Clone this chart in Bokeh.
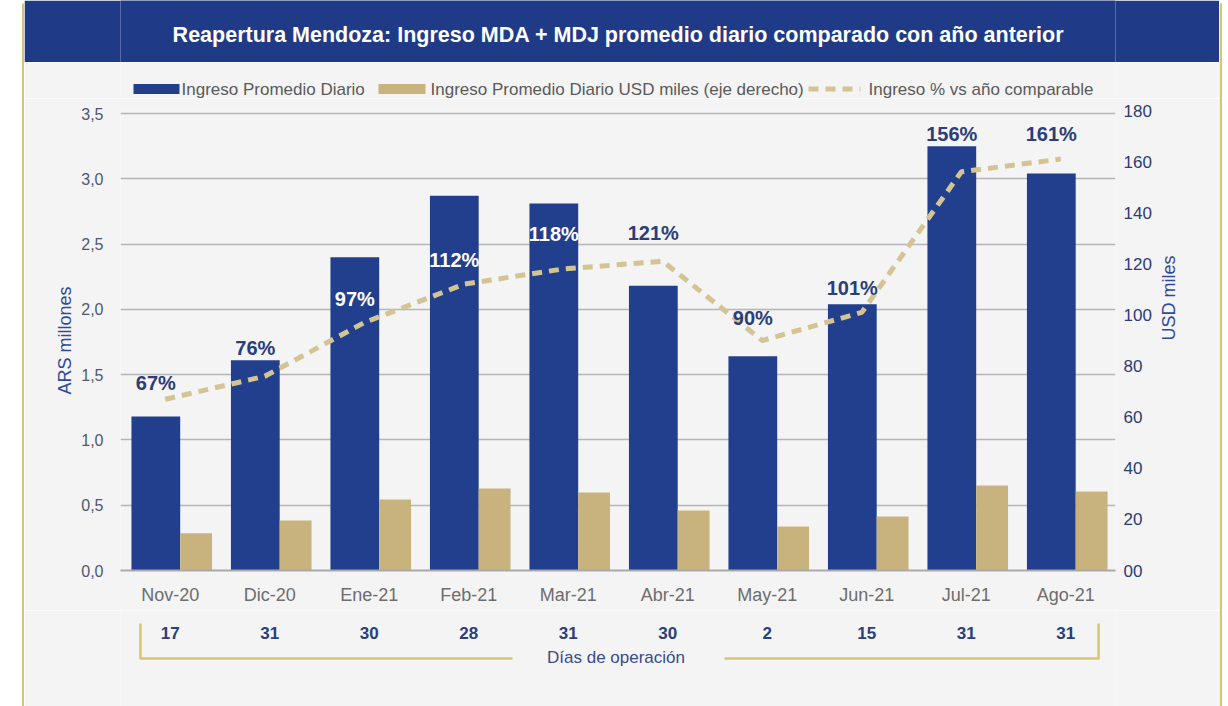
import math
from bokeh.plotting import figure
from bokeh.layouts import row, column
from bokeh.models import (Range1d, LinearAxis, FixedTicker, ColumnDataSource)
from bokeh.transform import dodge
from bokeh.core.properties import value
from bokeh.embed import file_html
from bokeh.resources import INLINE

# ---------------- data ----------------
months = ["Nov-20", "Dic-20", "Ene-21", "Feb-21", "Mar-21",
          "Abr-21", "May-21", "Jun-21", "Jul-21", "Ago-21"]
ars_millones = [1.18, 1.61, 2.40, 2.87, 2.81, 2.18, 1.64, 2.04, 3.25, 3.04]
usd_miles = [14.6, 19.6, 27.8, 32.1, 30.5, 23.5, 17.2, 21.1, 33.3, 30.9]
pct_vs_prev = [67, 76, 97, 112, 118, 121, 90, 101, 156, 161]
dias_operacion = [17, 31, 30, 28, 31, 30, 2, 15, 31, 31]

left_ticks = [0, 0.5, 1.0, 1.5, 2.0, 2.5, 3.0, 3.5]
left_tick_labels = ["0,0", "0,5", "1,0", "1,5", "2,0", "2,5", "3,0", "3,5"]
right_ticks = [0, 20, 40, 60, 80, 100, 120, 140, 160, 180]
right_tick_labels = ["00", "20", "40", "60", "80", "100", "120", "140", "160", "180"]

title_text = "Reapertura Mendoza: Ingreso MDA + MDJ promedio diario comparado con año anterior"
legend_labels = ["Ingreso Promedio Diario",
                 "Ingreso Promedio Diario USD miles (eje derecho)",
                 "Ingreso % vs año comparable"]
dias_title = "Días de operación"

# ---------------- styles ----------------
NAVY = "#213f8c"
TITLE_NAVY = "#1f3b87"
TAN = "#c8b37f"
DASH = "#d4c493"
GOLD = "#d8c66e"
BG = "#f4f4f4"
LABEL_BLUE = "#2b3d7a"
FONT = "Liberation Sans"
label_dy = [-16, -28, -24, -24, -35, -28, -23, -24, -38, -25]
label_colors = [LABEL_BLUE, LABEL_BLUE, "white", "white", "white",
                LABEL_BLUE, LABEL_BLUE, LABEL_BLUE, LABEL_BLUE, LABEL_BLUE]

W, H = 1228, 706
LEFT_STRIP, RIGHT_STRIP = 24, 9
INNER = W - LEFT_STRIP - RIGHT_STRIP          # 1195
X0, X1 = LEFT_STRIP, W - RIGHT_STRIP          # inner page x span 24..1219
FL, FR, FT, FB = 120, 1115, 110, 570          # plot frame, page pixels
TITLE_H, LEG_H, FOOT_H = 62, 36, 96
MAIN_TOP = TITLE_H + LEG_H
MAIN_H = H - MAIN_TOP - FOOT_H
BL, BR = FL - X0, X1 - FR                     # common left / right borders


def deco_fig(w, h, xr, yr, bl=0, br=0, fill=BG, border=BG):
    f = figure(width=w, height=h, x_range=xr, y_range=yr,
               output_backend="svg", toolbar_location=None, title=None,
               x_axis_location=None, y_axis_location=None,
               min_border=0, min_border_left=bl, min_border_right=br,
               outline_line_color=None,
               background_fill_color=fill, border_fill_color=border)
    f.grid.visible = False
    return f


# ---------------- left / right strips (white margin + gold border) ----------------
ls = deco_fig(LEFT_STRIP, H, Range1d(0, LEFT_STRIP), Range1d(H, 0),
              fill="white", border="white")
ls.quad(left=21.5, right=LEFT_STRIP, top=3, bottom=H, fill_color=GOLD, line_color=None)

rs = deco_fig(RIGHT_STRIP, H, Range1d(X1, W), Range1d(H, 0),
              fill="white", border="white")
rs.quad(left=X1, right=X1 + 2.5, top=3, bottom=H, fill_color=GOLD, line_color=None)

# ---------------- title bar ----------------
tb = deco_fig(INNER, TITLE_H, Range1d(FL, FR), Range1d(TITLE_H, 0), bl=BL, br=BR,
              fill=TITLE_NAVY, border=TITLE_NAVY)
tb.text(x=[618], y=[34], text=[title_text], text_color="white", text_font=value(FONT),
        text_font_size="21.5px", text_font_style="bold", text_align="center",
        text_baseline="middle")

# ---------------- legend row ----------------
lg = deco_fig(INNER, LEG_H, Range1d(FL, FR), Range1d(MAIN_TOP, TITLE_H), bl=BL, br=BR)
LEG_Y = 88.5
lg.quad(left=133, right=179, top=LEG_Y - 5, bottom=LEG_Y + 5, fill_color=NAVY, line_color=None)
lg.quad(left=378, right=425, top=LEG_Y - 5, bottom=LEG_Y + 5, fill_color=TAN, line_color=None)
lg.line(x=[808, 860], y=[LEG_Y, LEG_Y], line_color=DASH, line_width=5, line_dash="10 7")
lg.text(x=[181, 430, 868], y=[LEG_Y] * 3, text=legend_labels, text_color="#5a5a5a",
        text_font=value(FONT), text_font_size="17px", text_align="left",
        text_baseline="middle")

# ---------------- main chart ----------------
src = ColumnDataSource(dict(
    month=months, ars=ars_millones, usd=usd_miles, pct=pct_vs_prev,
    pct_label=[f"{v}%" for v in pct_vs_prev], dy=label_dy, lc=label_colors,
))

p = figure(x_range=months, y_range=Range1d(0, 3.5 * 460 / 457),
           width=INNER, height=MAIN_H, output_backend="svg", toolbar_location=None,
           title=None,
           min_border_left=BL, min_border_right=BR,
           min_border_top=FT - MAIN_TOP, min_border_bottom=MAIN_TOP + MAIN_H - FB,
           background_fill_color=BG, border_fill_color=BG, outline_line_color=None)
p.extra_y_ranges = {"usd": Range1d(0, 180)}

p.vbar(x=dodge("month", -0.145, range=p.x_range), top="ars", width=0.49,
       source=src, fill_color=NAVY, line_color=None)
p.vbar(x=dodge("month", 0.26, range=p.x_range), top="usd", width=0.32,
       source=src, fill_color=TAN, line_color=None, y_range_name="usd")
p.line(x=dodge("month", -0.05, range=p.x_range), y="pct", source=src,
       y_range_name="usd", line_color=DASH, line_width=5, line_dash="10 7")
p.text(x=dodge("month", -0.145, range=p.x_range), y="pct", text="pct_label",
       source=src, y_range_name="usd", y_offset="dy", text_color="lc",
       text_font=value(FONT), text_font_size="20px", text_font_style="bold",
       text_align="center", text_baseline="middle")

p.xgrid.grid_line_color = None
p.ygrid.grid_line_color = "#b5b5b5"
p.ygrid.grid_line_width = 1.5
p.ygrid.ticker = FixedTicker(ticks=left_ticks)

ya = p.yaxis[0]
ya.ticker = FixedTicker(ticks=left_ticks)
ya.major_label_overrides = dict(zip(left_ticks, left_tick_labels))
ya.axis_line_color = None
ya.major_tick_line_color = None
ya.minor_tick_line_color = None
ya.major_label_standoff = 11
ya.major_label_text_font = FONT
ya.major_label_text_font_size = "16px"
ya.major_label_text_color = "#4f586e"
ya.axis_label = "ARS millones"
ya.axis_label_text_font = FONT
ya.axis_label_text_font_size = "18px"
ya.axis_label_text_font_style = "normal"
ya.axis_label_text_color = "#2e4a9a"
ya.axis_label_standoff = 3

ra = LinearAxis(y_range_name="usd", ticker=FixedTicker(ticks=right_ticks))
ra.major_label_overrides = dict(zip(right_ticks, right_tick_labels))
ra.axis_line_color = None
ra.major_tick_line_color = None
ra.minor_tick_line_color = None
ra.major_label_standoff = 2
ra.major_label_text_font = FONT
ra.major_label_text_font_size = "17px"
ra.major_label_text_color = "#2c3b73"
ra.axis_label = "USD miles"
ra.axis_label_text_font = FONT
ra.axis_label_text_font_size = "18px"
ra.axis_label_text_font_style = "normal"
ra.axis_label_text_color = "#2e4a9a"
ra.axis_label_standoff = 14
if "axis_label_orientation" in ra.properties():
    ra.axis_label_orientation = math.pi / 2
p.add_layout(ra, "right")

xa = p.xaxis[0]
xa.axis_line_color = "#a9a9a9"
xa.axis_line_width = 2
xa.major_tick_line_color = None
xa.minor_tick_line_color = None
xa.major_label_standoff = 8
xa.major_label_text_font = FONT
xa.major_label_text_font_size = "18px"
xa.major_label_text_color = "#6d6d6d"

# ---------------- footer (days of operation) ----------------
y_top = MAIN_TOP + MAIN_H
ft = figure(width=INNER, height=FOOT_H, x_range=p.x_range, y_range=Range1d(H, y_top),
            output_backend="svg", toolbar_location=None, title=None,
            x_axis_location=None, y_axis_location=None,
            min_border_left=BL, min_border_right=BR,
            min_border_top=0, min_border_bottom=0, outline_line_color=None,
            background_fill_color=BG, border_fill_color=BG)
ft.grid.visible = False
ft.text(x=months, y=[632] * len(months), text=[str(d) for d in dias_operacion],
        text_color="#2a3d7c", text_font=value(FONT), text_font_size="17px",
        text_font_style="bold", text_align="center", text_baseline="middle")
# bracket (x in synthetic category units: slot i spans [i, i+1])
ft.multi_line(xs=[[0.2, 0.2, 3.94], [6.07, 9.83, 9.83]],
              ys=[[623, 658, 658], [658, 658, 623]],
              line_color=GOLD, line_width=2.5)
ft.text(x=[4.98], y=[657], text=[dias_title], text_color="#3a4a8a",
        text_font=value(FONT), text_font_size="17px", text_align="center",
        text_baseline="middle")

layout = row(ls, column(tb, lg, p, ft), rs)
open("out.html", "w").write(file_html(layout, INLINE))
